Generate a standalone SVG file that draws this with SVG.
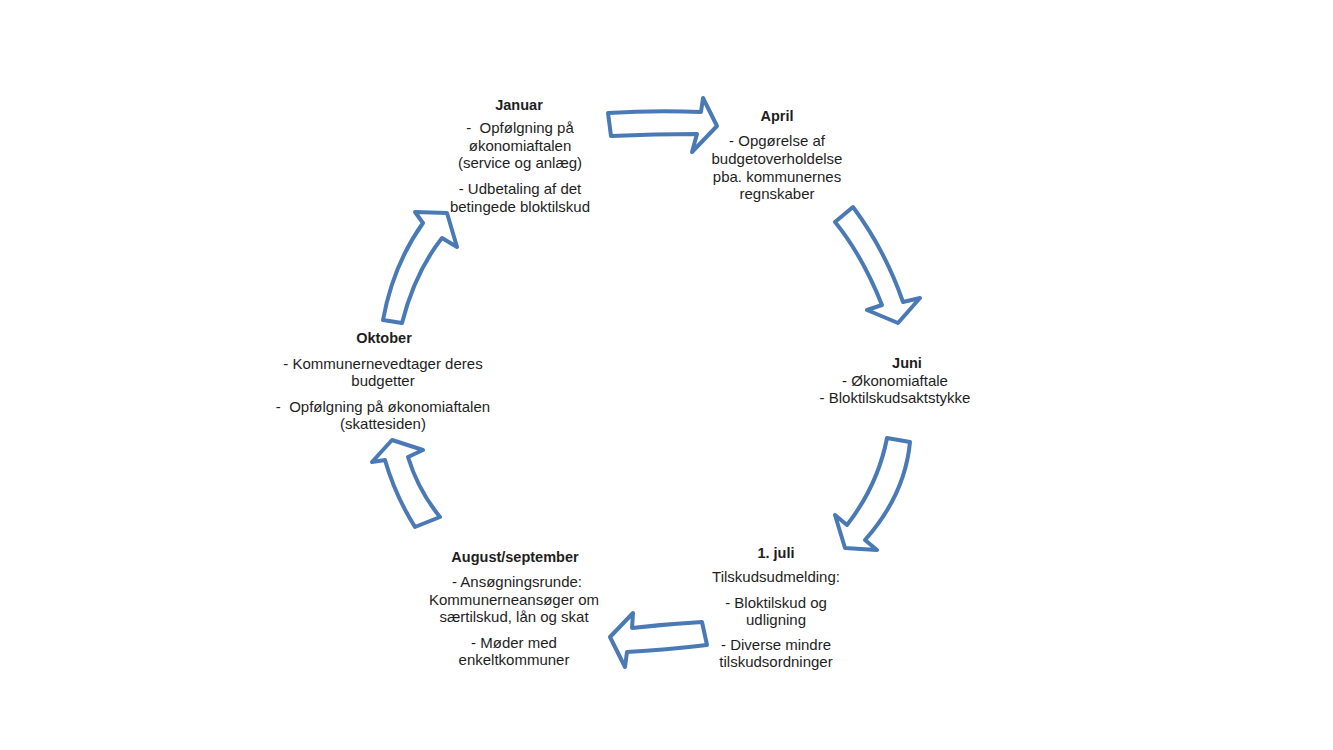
<svg xmlns="http://www.w3.org/2000/svg" width="1333" height="750" viewBox="0 0 1333 750">
<style>
.arrow{fill:#ffffff;stroke:#4A7AB5;stroke-width:4;stroke-linejoin:round}
.t{font-family:"Liberation Sans",Arial,sans-serif;font-size:15px;fill:#1e1e1e;text-anchor:middle;white-space:pre}
.h{font-weight:bold;font-size:14.5px}
</style>
<rect width="1333" height="750" fill="#ffffff"/>
<g id="connectors">
<path class="arrow" d="M608,113 Q655,110 701,112 L703,98 L717,126 L692,152 L697,134 Q655,134 611,136 Z"/>
<path class="arrow" d="M835,222 L853,207 Q885,250 903,302 L920,298 L898,323 L867,310 L882,305 Q862,255 835,222 Z"/>
<path class="arrow" d="M887,438 L910,442 Q905,495 865,540 L877,550 L845,548 L835,515 L847,525 Q878,485 887,438 Z"/>
<path class="arrow" d="M702,622 L707,645 Q665,650 627,652 L625,667 L610,637 L633,613 L632,628 Q667,624 702,622 Z"/>
<path class="arrow" d="M415,527 L440,517 Q418,490 408,457 L423,450 L392,440 L372,462 L385,460 Q395,495 415,527 Z"/>
<path class="arrow" d="M383,320 L402,323 Q415,272 442,238 L457,247 L447,213 L415,212 L423,223 Q393,265 383,320 Z"/>
</g>
<g id="januar">
<text x="519" y="110" class="t h">Januar</text>
<text x="520" y="133" class="t" xml:space="preserve">-  Opfølgning på</text>
<text x="520" y="151" class="t">økonomiaftalen</text>
<text x="520" y="168" class="t">(service og anlæg)</text>
<text x="520" y="194" class="t">- Udbetaling af det</text>
<text x="520" y="212" class="t">betingede bloktilskud</text>
</g>
<g id="april">
<text x="777" y="121" class="t h">April</text>
<text x="777" y="146" class="t">- Opgørelse af</text>
<text x="777" y="164" class="t">budgetoverholdelse</text>
<text x="777" y="182" class="t">pba. kommunernes</text>
<text x="777" y="199" class="t">regnskaber</text>
</g>
<g id="juni">
<text x="907" y="368" class="t h">Juni</text>
<text x="895" y="386" class="t">- Økonomiaftale</text>
<text x="895" y="403" class="t">- Bloktilskudsaktstykke</text>
</g>
<g id="juli">
<text x="776" y="558" class="t h">1. juli</text>
<text x="776" y="582" class="t">Tilskudsudmelding:</text>
<text x="776" y="608" class="t">- Bloktilskud og</text>
<text x="776" y="625" class="t">udligning</text>
<text x="776" y="650" class="t">- Diverse mindre</text>
<text x="776" y="667" class="t">tilskudsordninger</text>
</g>
<g id="august">
<text x="515" y="562" class="t h">August/september</text>
<text x="517" y="587" class="t">- Ansøgningsrunde:</text>
<text x="514" y="605" class="t">Kommunerneansøger om</text>
<text x="514" y="622" class="t">særtilskud, lån og skat</text>
<text x="514" y="648" class="t">- Møder med</text>
<text x="514" y="665" class="t">enkeltkommuner</text>
</g>
<g id="oktober">
<text x="384" y="343" class="t h">Oktober</text>
<text x="383" y="369" class="t">- Kommunernevedtager deres</text>
<text x="383" y="386" class="t">budgetter</text>
<text x="383" y="412" class="t" xml:space="preserve">-  Opfølgning på økonomiaftalen</text>
<text x="383" y="429" class="t">(skattesiden)</text>
</g>
</svg>
